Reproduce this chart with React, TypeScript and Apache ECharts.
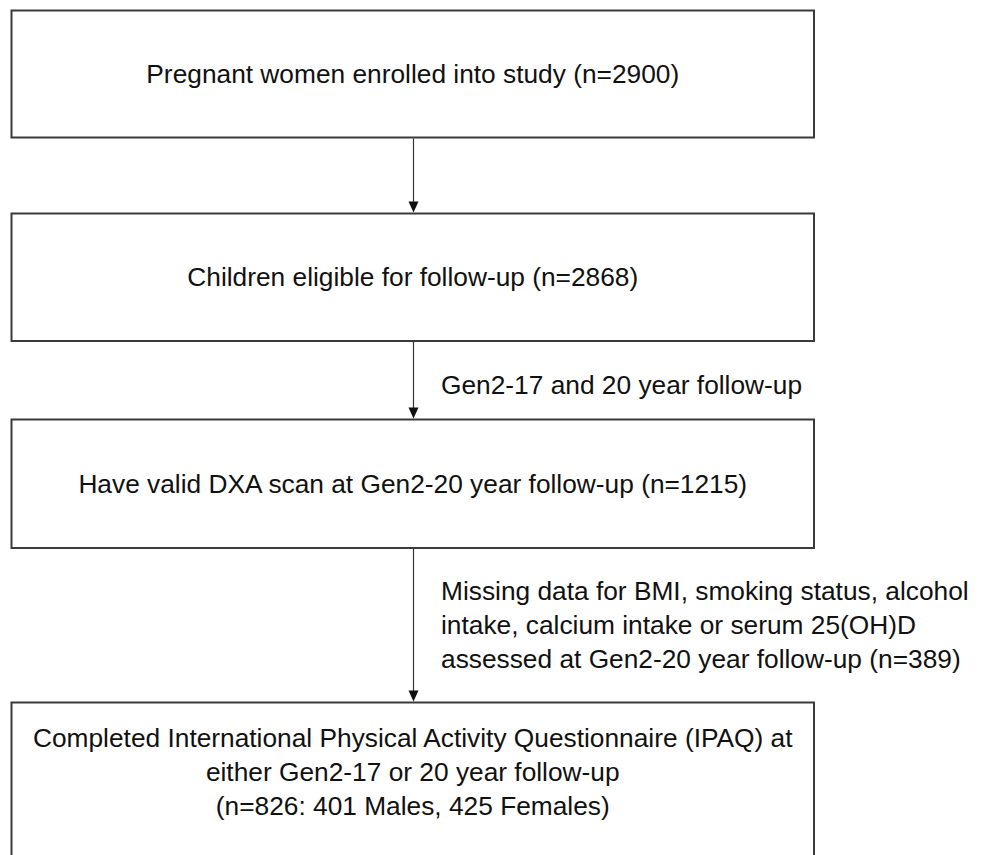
import React, { useEffect, useRef } from "react";
import * as echarts from "echarts";

// ---- data ----
const stepNames: string[] = [
  "Pregnant women enrolled into study",
  "Children eligible for follow-up",
  "Have valid DXA scan at Gen2-20 year follow-up",
  "Completed International Physical Activity Questionnaire (IPAQ) at\neither Gen2-17 or 20 year follow-up",
];
const stepCounts: number[] = [2900, 2868, 1215, 826];
const finalBreakdown: string[] = ["401 Males", "425 Females"];
const transitionNotes: string[] = [
  "",
  "Gen2-17 and 20 year follow-up",
  "Missing data for BMI, smoking status, alcohol\nintake, calcium intake or serum 25(OH)D\nassessed at Gen2-20 year follow-up (n=389)",
];

// ---- layout (pixels) ----
const BOX_LEFT = 11.5;
const BOX_RIGHT = 814;
const BOX_TOPS = [10.5, 213.5, 419.5, 702.5];
const BOX_HEIGHTS = [127, 127.5, 128.5, 180];
const TEXT_CENTERS = [73.5, 277, 484, 772];
const ARROW_X = 413.5;
const NOTE_X = 441;
const NOTE_CENTERS = [0, 385, 625];
const FONT_SIZE = 26.3;
const FONT = "'Liberation Sans', Arial, Helvetica, sans-serif";

function boxLabel(i: number): string {
  if (i === stepNames.length - 1) {
    return `${stepNames[i]}\n(n=${stepCounts[i]}: ${finalBreakdown.join(", ")})`;
  }
  return `${stepNames[i]} (n=${stepCounts[i]})`;
}

export default function App() {
  const ref = useRef<HTMLDivElement>(null);
  useEffect(() => {
    document.body.style.margin = "0";
    if (!ref.current) return;
    const chart = echarts.init(ref.current, null, { renderer: "svg" });
    const elements: any[] = [];
    const cx = (BOX_LEFT + BOX_RIGHT) / 2;
    stepNames.forEach((_, i) => {
      elements.push({
        type: "rect",
        shape: { x: BOX_LEFT, y: BOX_TOPS[i], width: BOX_RIGHT - BOX_LEFT, height: BOX_HEIGHTS[i] },
        style: { fill: "#ffffff", stroke: "#3a3a3a", lineWidth: 2 },
      });
      elements.push({
        type: "text",
        x: cx,
        y: TEXT_CENTERS[i],
        style: {
          text: boxLabel(i),
          fill: "#111111",
          fontSize: FONT_SIZE,
          fontFamily: FONT,
          align: "center",
          verticalAlign: "middle",
          lineHeight: 34,
        },
      });
    });
    for (let i = 0; i < stepNames.length - 1; i++) {
      const y1 = BOX_TOPS[i] + BOX_HEIGHTS[i] + 1;
      const y2 = BOX_TOPS[i + 1] - 1;
      elements.push({
        type: "line",
        shape: { x1: ARROW_X, y1, x2: ARROW_X, y2: y2 - 9 },
        style: { stroke: "#333333", lineWidth: 1.2 },
      });
      elements.push({
        type: "polygon",
        shape: {
          points: [
            [ARROW_X - 5, y2 - 11],
            [ARROW_X + 5, y2 - 11],
            [ARROW_X, y2],
          ],
        },
        style: { fill: "#111111" },
      });
      if (transitionNotes[i]) {
        elements.push({
          type: "text",
          x: NOTE_X,
          y: NOTE_CENTERS[i],
          style: {
            text: transitionNotes[i],
            fill: "#111111",
            fontSize: FONT_SIZE,
            fontFamily: FONT,
            align: "left",
            verticalAlign: "middle",
            lineHeight: 34,
          },
        });
      }
    }
    chart.setOption({
      animation: false,
      backgroundColor: "#ffffff",
      graphic: { elements },
    });
    return () => chart.dispose();
  }, []);
  return <div ref={ref} style={{ width: 982, height: 855 }} />;
}
